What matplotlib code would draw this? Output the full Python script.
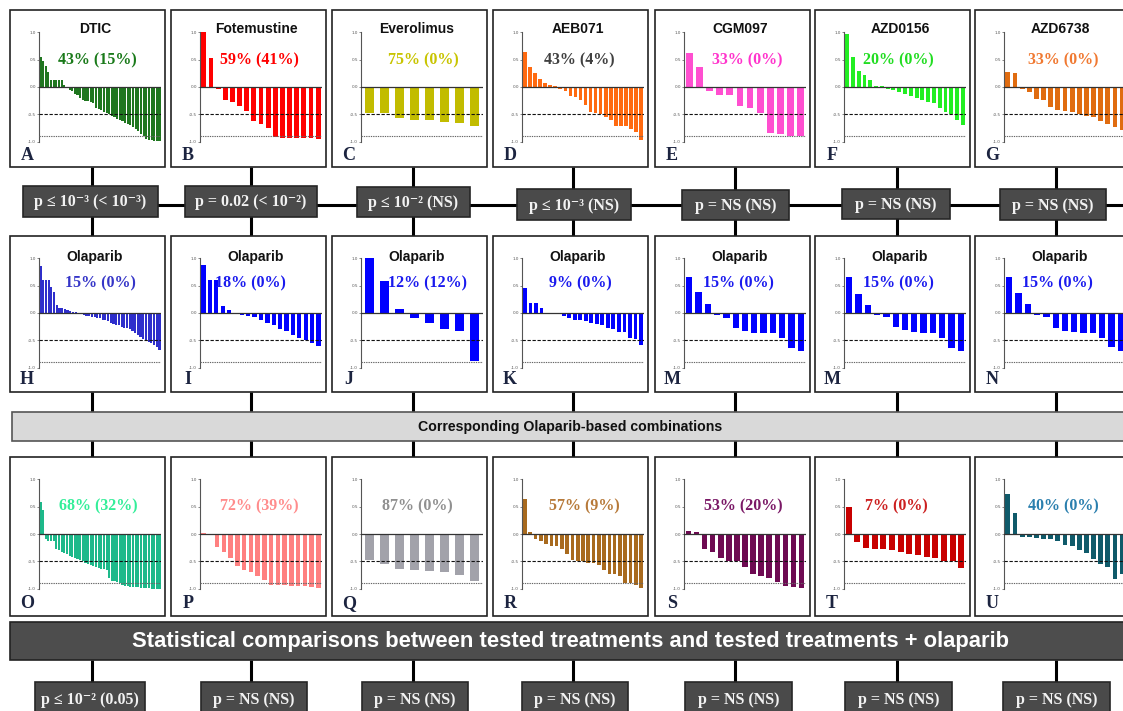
import matplotlib
matplotlib.use("Agg")
import matplotlib.pyplot as plt
from matplotlib.patches import Rectangle

# ---------------- data ----------------
row1_titles = ["DTIC", "Fotemustine", "Everolimus", "AEB071", "CGM097", "AZD0156", "AZD6738"]
row2_titles = ["Olaparib"] * 7
letters_row1 = ["A", "B", "C", "D", "E", "F", "G"]
letters_row2 = ["H", "I", "J", "K", "M", "M", "N"]
letters_row3 = ["O", "P", "Q", "R", "S", "T", "U"]

pct_row1 = ["43% (15%)", "59% (41%)", "75% (0%)", "43% (4%)", "33% (0%)", "20% (0%)", "33% (0%)"]
pct_row2 = ["15% (0%)", "18% (0%)", "12% (12%)", "9% (0%)", "15% (0%)", "15% (0%)", "15% (0%)"]
pct_row3 = ["68% (32%)", "72% (39%)", "87% (0%)", "57% (9%)", "53% (20%)", "7% (0%)", "40% (0%)"]

pvals_top = ["p \u2264 10\u207b\u00b3 (< 10\u207b\u00b3)", "p = 0.02 (< 10\u207b\u00b2)", "p \u2264 10\u207b\u00b2 (NS)",
             "p \u2264 10\u207b\u00b3 (NS)", "p = NS (NS)", "p = NS (NS)", "p = NS (NS)"]
pvals_bottom = ["p \u2264 10\u207b\u00b2 (0.05)", "p = NS (NS)", "p = NS (NS)", "p = NS (NS)",
                "p = NS (NS)", "p = NS (NS)", "p = NS (NS)"]

middle_label = "Corresponding Olaparib-based combinations"
bottom_label = "Statistical comparisons between tested treatments and tested treatments + olaparib"

dtic = [0.55, 0.47, 0.38, 0.27, 0.13, 0.13, 0.13, 0.13, 0.13, 0.03, -0.02, -0.05, -0.08, -0.12, -0.15,
        -0.2, -0.24, -0.25, -0.26, -0.27, -0.3, -0.38, -0.4, -0.42, -0.45, -0.47, -0.5, -0.52, -0.55,
        -0.58, -0.6, -0.62, -0.65, -0.68, -0.7, -0.73, -0.76, -0.8, -0.85, -0.9, -0.94, -0.96, -0.97,
        -0.98, -0.98, -0.99]
fotemustine = [1.0, 0.53, -0.04, -0.23, -0.28, -0.34, -0.44, -0.62, -0.67, -0.75, -0.91, -0.92, -0.92,
               -0.93, -0.93, -0.93, -0.95]
everolimus = [-0.48, -0.48, -0.57, -0.61, -0.61, -0.63, -0.66, -0.71]
aeb071 = [0.64, 0.37, 0.25, 0.14, 0.08, 0.04, 0.01, -0.03, -0.07, -0.16, -0.19, -0.24, -0.32, -0.45,
          -0.48, -0.5, -0.55, -0.6, -0.71, -0.71, -0.71, -0.76, -0.82, -0.96]
cgm097 = [0.62, 0.37, -0.07, -0.15, -0.15, -0.35, -0.39, -0.48, -0.83, -0.85, -0.9, -0.9]
azd0156 = [0.97, 0.55, 0.3, 0.22, 0.12, 0.02, 0.01, -0.03, -0.05, -0.1, -0.12, -0.17, -0.2, -0.23,
           -0.27, -0.3, -0.38, -0.45, -0.5, -0.6, -0.7]
azd6738 = [0.27, 0.25, -0.03, -0.09, -0.22, -0.23, -0.37, -0.42, -0.44, -0.45, -0.5, -0.53, -0.55,
           -0.62, -0.68, -0.72, -0.78]

olaparib_h = [0.85, 0.6, 0.6, 0.6, 0.48, 0.38, 0.14, 0.1, 0.1, 0.08, 0.05, 0.03, 0.02, 0.01, -0.01,
              -0.02, -0.04, -0.05, -0.06, -0.07, -0.08, -0.1, -0.1, -0.12, -0.13, -0.15, -0.18, -0.2,
              -0.21, -0.22, -0.25, -0.27, -0.28, -0.3, -0.33, -0.36, -0.4, -0.43, -0.47, -0.5, -0.52,
              -0.55, -0.58, -0.62, -0.68]
olaparib_i = [0.88, 0.6, 0.6, 0.12, 0.05, -0.02, -0.03, -0.05, -0.08, -0.12, -0.18, -0.22, -0.3,
              -0.32, -0.4, -0.45, -0.5, -0.55, -0.6]
olaparib_j = [1.0, 0.59, 0.065, -0.1, -0.18, -0.29, -0.33, -0.88]
olaparib_k = [0.46, 0.18, 0.18, 0.1, 0.0, 0.0, -0.01, -0.06, -0.09, -0.12, -0.13, -0.15, -0.18, -0.2,
              -0.22, -0.28, -0.3, -0.34, -0.35, -0.45, -0.47, -0.58]
olaparib_m1 = [0.66, 0.38, 0.16, -0.04, -0.09, -0.28, -0.33, -0.36, -0.37, -0.37, -0.46, -0.64, -0.7]
olaparib_m2 = [0.66, 0.35, 0.15, -0.03, -0.08, -0.26, -0.31, -0.34, -0.36, -0.36, -0.45, -0.63, -0.69]
olaparib_n = [0.66, 0.37, 0.16, -0.03, -0.08, -0.27, -0.32, -0.35, -0.36, -0.36, -0.45, -0.62, -0.7]

combo_o = [0.58, 0.43, -0.1, -0.12, -0.12, -0.13, -0.28, -0.3, -0.32, -0.35, -0.37, -0.4, -0.42,
           -0.44, -0.45, -0.47, -0.5, -0.52, -0.54, -0.56, -0.58, -0.6, -0.62, -0.63, -0.64, -0.65,
           -0.8, -0.85, -0.86, -0.88, -0.9, -0.92, -0.94, -0.95, -0.96, -0.96, -0.97, -0.97, -0.98,
           -0.98, -0.99, -0.99, -1.0, -1.0, -1.0, -1.0]
combo_p = [0.01, -0.01, -0.24, -0.32, -0.44, -0.58, -0.66, -0.7, -0.76, -0.84, -0.92, -0.93, -0.93,
           -0.94, -0.95, -0.95, -0.97, -0.98]
combo_q = [-0.48, -0.55, -0.63, -0.66, -0.67, -0.7, -0.74, -0.86]
combo_r = [0.63, 0.03, -0.1, -0.12, -0.18, -0.22, -0.22, -0.28, -0.36, -0.47, -0.5, -0.5, -0.52,
           -0.52, -0.56, -0.65, -0.72, -0.72, -0.77, -0.9, -0.9, -0.93, -0.98]
combo_s = [0.06, 0.04, -0.27, -0.32, -0.44, -0.5, -0.5, -0.6, -0.72, -0.76, -0.81, -0.88, -0.95,
           -0.96, -0.98]
combo_t = [0.5, -0.15, -0.26, -0.27, -0.27, -0.3, -0.32, -0.37, -0.38, -0.42, -0.43, -0.49, -0.5, -0.62]
combo_u = [0.72, 0.38, -0.06, -0.06, -0.07, -0.1, -0.1, -0.12, -0.2, -0.22, -0.3, -0.35, -0.45,
           -0.55, -0.6, -0.82, -0.72]

row1_values = [dtic, fotemustine, everolimus, aeb071, cgm097, azd0156, azd6738]
row2_values = [olaparib_h, olaparib_i, olaparib_j, olaparib_k, olaparib_m1, olaparib_m2, olaparib_n]
row3_values = [combo_o, combo_p, combo_q, combo_r, combo_s, combo_t, combo_u]

row1_bar_colors = ["#1f761f", "#ff0000", "#c2bc00", "#ff6a10", "#ff4fd0", "#22ee22", "#e06c10"]
row2_bar_colors = ["#2e2ecc", "#0000ff", "#0000ff", "#0000ff", "#0000ff", "#0000ff", "#0000ff"]
row3_bar_colors = ["#1db98a", "#ff8080", "#a2a2aa", "#a86a1e", "#6e0a52", "#c80000", "#0f5a6a"]

row1_txt_colors = ["#1a7a1a", "#ff0000", "#c8c400", "#404040", "#ff33cc", "#22dd22", "#f07830"]
row2_txt_colors = ["#3535c8", "#1a1aee", "#1a1aee", "#1a1aee", "#1a1aee", "#1a1aee", "#1a1aee"]
row3_txt_colors = ["#33ee99", "#ff8c8c", "#909090", "#b77a3a", "#7a1866", "#cc2020", "#2a7fae"]

# ---------------- layout (pixels) ----------------
W, H = 1123, 711
fig = plt.figure(figsize=(W / 100, H / 100), dpi=100)
fig.patch.set_facecolor("white")
canvas = fig.add_axes([0, 0, 1, 1])
canvas.set_xlim(0, W)
canvas.set_ylim(H, 0)
canvas.axis("off")

col_left = [10, 171, 332, 493, 655, 815, 975]
col_center = [92, 251, 413, 573, 735, 897, 1056]
PW = 155
rows = [(10, 167), (236, 392), (457, 616)]
pct_dy = [50, 47, 49]
pct_dx = [[87, 88, 91, 86, 92, 83, 88],
          [90, 79, 96, 87, 83, 83, 82],
          [88, 88, 85, 91, 88, 81, 88]]
title_dy = [19, 21, 0]

SERIF = ["Liberation Serif", "DejaVu Serif"]
SANS = ["Liberation Sans", "DejaVu Sans"]


def fx(x):
    return x / W


def fy(y):
    return 1 - y / H


def line(x0, y0, x1, y1, lw=2.2):
    canvas.plot([x0, x1], [y0, y1], color="black", lw=lw, solid_capstyle="butt", zorder=1)


def pbox(x0, x1, y0, y1, text):
    canvas.add_patch(Rectangle((x0, y0), x1 - x0, y1 - y0, fc="#4a4a4a", ec="#262626", lw=1.2, zorder=3))
    canvas.text((x0 + x1) / 2, (y0 + y1) / 2 + 1, text, ha="center", va="center", color="#f2f2f2",
                fontsize=11.5, fontweight="bold", family=SERIF, zorder=4)


def panel(left, top, bottom, vals, color, title, title_y, pct, pct_x, pct_y, pct_color, letter):
    canvas.add_patch(Rectangle((left, top), PW, bottom - top, fc="white", ec="#222222", lw=1.2, zorder=2))
    y_top = top + 21
    y_bot = top + 133
    ax = fig.add_axes([fx(left + 29), fy(y_bot), (122) / W, (y_bot - y_top) / H])
    ax.patch.set_visible(False)
    n = len(vals)
    w = 0.8 if n > 30 else (0.62 if n <= 10 else 0.68)
    ax.bar(range(n), vals, width=w, color=color, zorder=2, linewidth=0)
    ax.set_xlim(-0.55, n - 0.45)
    ax.set_ylim(-1.02, 1.02)
    ax.axhline(0, color="#333333", lw=0.9, zorder=3)
    ax.axhline(-0.5, color="#111111", lw=0.8, ls=(0, (3, 1.5)), zorder=3)
    ax.axhline(-0.9, color="#666666", lw=0.8, ls=(0, (1.2, 0.9)), zorder=3)
    for s in ["top", "right", "bottom"]:
        ax.spines[s].set_visible(False)
    ax.spines["left"].set_bounds(-1, 1)
    ax.spines["left"].set_color("#555555")
    ax.spines["left"].set_linewidth(0.8)
    ax.set_xticks([])
    ax.set_yticks([-1, -0.5, 0, 0.5, 1])
    ax.set_yticklabels(["-1.0", "-0.5", "0.0", "0.5", "1.0"])
    ax.tick_params(axis="y", labelsize=3, length=1.5, width=0.5, pad=0.8, colors="#555555")
    if title:
        fig.text(fx(left + 85), fy(top + title_y), title, ha="center", va="center", fontsize=10,
                 fontweight="bold", family=SANS, color="#111111")
    fig.text(fx(left + pct_x), fy(top + pct_y), pct, ha="center", va="center", fontsize=11.5,
             fontweight="bold", family=SERIF, color=pct_color)
    fig.text(fx(left + 17), fy(bottom - 12), letter, ha="center", va="center", fontsize=13,
             fontweight="bold", family=SERIF, color="#1c2440")


# ---------------- connectors ----------------
for cx in col_center:
    line(cx, rows[0][1], cx, rows[1][0])
    line(cx, rows[1][1], cx, rows[2][0])
    line(cx, 660, cx, 682)
line(23, 205, W + 5, 205)

# ---------------- panels ----------------
all_vals = [row1_values, row2_values, row3_values]
all_bar_colors = [row1_bar_colors, row2_bar_colors, row3_bar_colors]
all_txt_colors = [row1_txt_colors, row2_txt_colors, row3_txt_colors]
all_pct = [pct_row1, pct_row2, pct_row3]
all_titles = [row1_titles, row2_titles, [None] * 7]
all_letters = [letters_row1, letters_row2, letters_row3]

for r in range(3):
    top, bottom = rows[r]
    for c in range(7):
        panel(col_left[c], top, bottom, all_vals[r][c], all_bar_colors[r][c], all_titles[r][c],
              title_dy[r], all_pct[r][c], pct_dx[r][c], pct_dy[r], all_txt_colors[r][c],
              all_letters[r][c])

# ---------------- p-value boxes ----------------
top_boxes = [(23, 158, 186, 217), (185, 317, 186, 217), (357, 470, 187, 217), (517, 631, 189, 220),
             (682, 789, 190, 220), (842, 950, 189, 219), (1000, 1106, 189, 220)]
for (x0, x1, y0, y1), t in zip(top_boxes, pvals_top):
    pbox(x0, x1, y0, y1, t)

bottom_boxes = [(35, 145), (201, 307), (362, 468), (522, 628), (685, 792), (845, 952), (1003, 1110)]
for (x0, x1), t in zip(bottom_boxes, pvals_bottom):
    pbox(x0, x1, 682, 716, t)

# ---------------- banners ----------------
canvas.add_patch(Rectangle((12, 412), W, 29, fc="#d9d9d9", ec="#555555", lw=1.2, zorder=3))
canvas.text(570, 426.5, middle_label, ha="center", va="center", fontsize=10.2, fontweight="bold",
            family=SANS, color="#111111", zorder=4)
canvas.add_patch(Rectangle((10, 622), W, 38, fc="#4d4d4d", ec="#222222", lw=1.2, zorder=3))
canvas.text(570, 641, bottom_label, ha="center", va="center", fontsize=15.8, fontweight="bold",
            family=SANS, color="white", zorder=4)

fig.savefig("out.png", dpi=100)
